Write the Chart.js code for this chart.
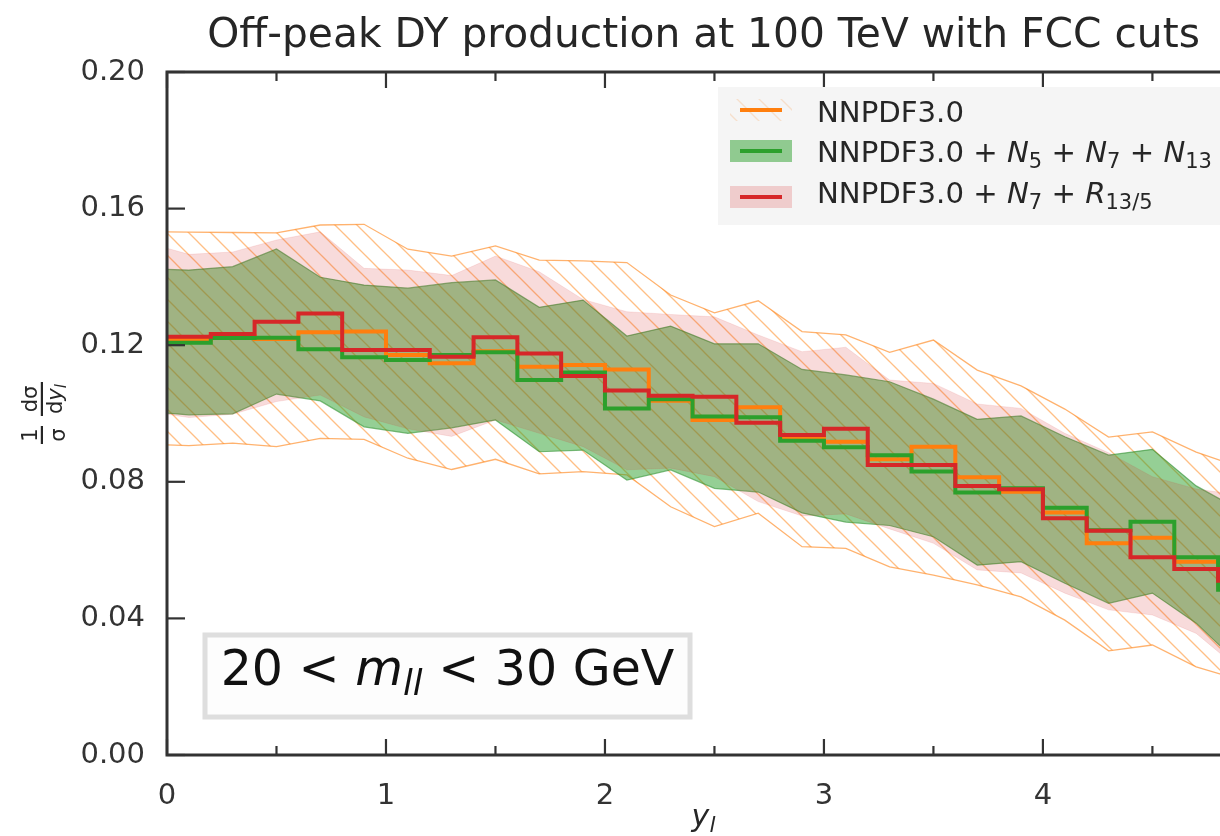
<!DOCTYPE html>
<html><head><meta charset="utf-8">
<script src="https://cdn.jsdelivr.net/npm/chart.js@4.4.1/dist/chart.umd.min.js"></script>
<style>
html,body{margin:0;padding:0;background:#fff;overflow:hidden;width:1220px;height:836px}
#wrap{width:1240px;height:836px}
canvas{display:block}
</style></head><body>
<div id="wrap"><canvas id="c" width="1240" height="836"></canvas></div>
<script>
// ---------------- data ----------------
const titleText = 'Off-peak DY production at 100 TeV with FCC cuts';
const binEdges = [0,0.2,0.4,0.6,0.8,1.0,1.2,1.4,1.6,1.8,2.0,2.2,2.4,2.6,2.8,3.0,3.2,3.4,3.6,3.8,4.0,4.2,4.4,4.6,4.8,5.0];
const nnpdfCentral = [0.1215,0.1227,0.1218,0.1238,0.1240,0.1171,0.1147,0.1182,0.1137,0.1142,0.1129,0.1037,0.0981,0.1018,0.0930,0.0917,0.0866,0.0903,0.0813,0.0771,0.0710,0.0620,0.0636,0.0566,0.0500];
const n5n7n13Central = [0.1207,0.1221,0.1222,0.1188,0.1165,0.1157,0.1171,0.1179,0.1098,0.1120,0.1015,0.1042,0.0991,0.0989,0.0920,0.0901,0.0878,0.0830,0.0769,0.0781,0.0724,0.0658,0.0683,0.0579,0.0484];
const n7r135Central = [0.1225,0.1233,0.1269,0.1293,0.1186,0.1186,0.1166,0.1223,0.1176,0.1110,0.1067,0.1052,0.1049,0.0973,0.0937,0.0955,0.0849,0.0849,0.0788,0.0778,0.0693,0.0657,0.0579,0.0545,0.0510];

const bandX = [0,0.1,0.3,0.5,0.7,0.9,1.1,1.3,1.5,1.7,1.9,2.1,2.3,2.5,2.7,2.9,3.1,3.3,3.5,3.7,3.9,4.1,4.3,4.5,4.7,4.9];
const nnpdfUpper = [0.1532,0.1531,0.1530,0.1529,0.1552,0.1554,0.1481,0.1461,0.1491,0.1449,0.1447,0.1442,0.1347,0.1295,0.1330,0.1240,0.1230,0.1179,0.1215,0.1127,0.1081,0.1013,0.0931,0.0946,0.0887,0.0843];
const nnpdfLower = [0.0908,0.0906,0.0913,0.0903,0.0927,0.0924,0.0869,0.0836,0.0866,0.0823,0.0830,0.0820,0.0727,0.0669,0.0708,0.0610,0.0605,0.0551,0.0527,0.0498,0.0463,0.0395,0.0305,0.0322,0.0258,0.0220];
const n5n7n13Upper = [0.1422,0.1420,0.1430,0.1482,0.1399,0.1376,0.1367,0.1383,0.1391,0.1311,0.1332,0.1227,0.1256,0.1204,0.1204,0.1129,0.1113,0.1093,0.1042,0.0983,0.0993,0.0932,0.0878,0.0895,0.0788,0.0717];
const n5n7n13Lower = [0.1001,0.0996,0.0999,0.1057,0.1037,0.0961,0.0942,0.0958,0.0981,0.0888,0.0893,0.0805,0.0835,0.0781,0.0770,0.0709,0.0682,0.0672,0.0639,0.0556,0.0566,0.0503,0.0444,0.0474,0.0386,0.0264];
const n7r135Upper = [0.1484,0.1466,0.1473,0.1508,0.1532,0.1425,0.1420,0.1404,0.1461,0.1415,0.1334,0.1298,0.1290,0.1283,0.1230,0.1181,0.1194,0.1098,0.1088,0.1028,0.1015,0.0942,0.0885,0.0815,0.0779,0.0761];
const n7r135Lower = [0.0998,0.0988,0.0998,0.1035,0.1054,0.0990,0.0955,0.0933,0.0981,0.0942,0.0903,0.0835,0.0840,0.0815,0.0742,0.0700,0.0706,0.0662,0.0620,0.0542,0.0533,0.0474,0.0425,0.0410,0.0356,0.0249];

const xTickVals = [0,1,2,3,4];
const xMinorVals = [0.5,1.5,2.5,3.5,4.5];
const yTickVals = [0,0.04,0.08,0.12,0.16,0.20];

// ---------------- style ----------------
const FAM = '"DejaVu Sans"';
const ORANGE = '#ff7f0e', GREEN = '#2ca02c', RED = '#d62728';
const AXC = '#333333';
const PINK_FILL = 'rgba(214,39,40,0.17)';
const GREEN_FILL = 'rgba(44,160,44,0.5)';

const mainCtx = document.getElementById('c').getContext('2d');
function makeHatch(ctx, alpha, lw){
  const s = 22, c = document.createElement('canvas'); c.width = s; c.height = s;
  const g = c.getContext('2d');
  g.strokeStyle = 'rgba(255,127,14,' + alpha + ')'; g.lineWidth = lw;
  for (const k of [-1,0,1]) { g.beginPath(); g.moveTo(-3, -3 + k*s); g.lineTo(s+3, s+3 + k*s); g.stroke(); }
  return ctx.createPattern(c, 'repeat');
}
const hatch = makeHatch(mainCtx, 0.5, 1.3);
const hatchLegend = makeHatch(mainCtx, 0.18, 1.3);

function fitSize(text, family, targetW, style){
  const m = document.createElement('canvas').getContext('2d');
  m.font = (style||'') + ' 100px ' + family;
  return 100 * targetW / m.measureText(text).width;
}
const titleSize = fitSize(titleText, FAM, 993);

function stepPoints(vals){
  const pts = vals.map((v,i) => ({x: binEdges[i], y: v}));
  pts.push({x: binEdges[vals.length], y: vals[vals.length-1]});
  return pts;
}
function bandPoints(vals){ return vals.map((v,i) => ({x: bandX[i], y: v})); }

function drawRich(ctx, x, y, parts, size, family, measureOnly){
  let cx = x;
  for (const [t, st] of parts){
    const italic = st.indexOf('i') >= 0, sub = st.indexOf('s') >= 0;
    const fs = sub ? size*0.72 : size;
    ctx.font = (italic ? 'italic ' : '') + fs + 'px ' + family;
    if (!measureOnly) ctx.fillText(t, cx, sub ? y + size*0.2 : y);
    cx += ctx.measureText(t).width;
  }
  return cx - x;
}

const decor = {
  id: 'decor',
  afterDatasetsDraw(chart){
    const {ctx, chartArea: a, scales: {x, y}} = chart;
    ctx.save();
    ctx.strokeStyle = AXC; ctx.lineCap = 'butt';
    const ln = (x1,y1,x2,y2) => { ctx.beginPath(); ctx.moveTo(x1,y1); ctx.lineTo(x2,y2); ctx.stroke(); };
    ctx.lineWidth = 2.2;
    for (const v of xTickVals){ const p = x.getPixelForValue(v); ln(p,a.bottom,p,a.bottom-16); ln(p,a.top,p,a.top+16); }
    for (const v of xMinorVals){ const p = x.getPixelForValue(v); ln(p,a.bottom,p,a.bottom-9); ln(p,a.top,p,a.top+9); }
    for (const v of yTickVals){ const p = y.getPixelForValue(v); ln(a.left,p,a.left+18,p); ln(a.right,p,a.right-18,p); }
    ctx.lineWidth = 3;
    ctx.strokeRect(a.left, a.top, a.right - a.left, a.bottom - a.top);
    ctx.restore();
  },
  afterDraw(chart){
    const {ctx, chartArea: a} = chart;
    ctx.save();
    // ---- legend ----
    ctx.fillStyle = '#f5f5f5';
    ctx.fillRect(718, 87, 530, 138);
    const hx0 = 730, hx1 = 792;
    ctx.fillStyle = hatchLegend; ctx.fillRect(hx0, 99, hx1-hx0, 22);
    ctx.fillStyle = GREEN_FILL; ctx.fillRect(hx0, 140, hx1-hx0, 22);
    ctx.fillStyle = 'rgba(214,39,40,0.2)'; ctx.fillRect(hx0, 186, hx1-hx0, 22);
    ctx.lineWidth = 4;
    [[ORANGE,110],[GREEN,151],[RED,197]].forEach(([c,yy]) => {
      ctx.strokeStyle = c; ctx.beginPath(); ctx.moveTo(740, yy); ctx.lineTo(782, yy); ctx.stroke();
    });
    ctx.fillStyle = '#262626'; ctx.textBaseline = 'alphabetic'; ctx.textAlign = 'left';
    const LS = 29.2;
    drawRich(ctx, 817, 122, [['NNPDF3.0','n']], LS, FAM);
    drawRich(ctx, 817, 162, [['NNPDF3.0 + ','n'],['N','i'],['5','s'],[' + ','n'],['N','i'],['7','s'],[' + ','n'],['N','i'],['13','s']], LS, FAM);
    drawRich(ctx, 817, 203, [['NNPDF3.0 + ','n'],['N','i'],['7','s'],[' + ','n'],['R','i'],['13/5','s']], LS, FAM);
    // ---- text box ----
    ctx.fillStyle = '#fdfdfd'; ctx.fillRect(205, 635, 485, 82);
    ctx.strokeStyle = '#dedede'; ctx.lineWidth = 5; ctx.strokeRect(205, 635, 485, 82);
    const boxParts = [['20 < ','n'],['m','i'],['ll','is'],[' < 30 GeV','n']];
    const BS = 49;
    const bw = drawRich(ctx, 0, 0, boxParts, BS, FAM, true);
    ctx.fillStyle = '#111';
    drawRich(ctx, 447.5 - bw/2, 685, boxParts, BS, FAM);
    // ---- x axis label ----
    ctx.fillStyle = '#262626';
    const xl = [['y','i'],['l','is']];
    const xw = drawRich(ctx, 0, 0, xl, 30, FAM, true);
    drawRich(ctx, (a.left + a.right)/2 - xw/2, 826, xl, 30, FAM);
    // ---- y axis label (rotated fraction) ----
    ctx.save();
    ctx.translate(42, 415);
    ctx.rotate(-Math.PI/2);
    const FS = 21;
    ctx.font = FS + 'px ' + FAM;
    ctx.textAlign = 'center';
    const c1 = -20;
    ctx.fillText('1', c1, -5);
    ctx.fillText('σ', c1, 23);
    ctx.fillRect(c1 - 9, -1.2, 18, 2.2);
    const c2 = 16;
    ctx.fillText('dσ', c2, -5);
    ctx.textAlign = 'left';
    const wd = ctx.measureText('d').width;
    ctx.font = 'italic ' + FS + 'px ' + FAM;
    const wy = ctx.measureText('y').width;
    ctx.font = 'italic ' + (FS*0.72) + 'px ' + FAM;
    const wl = ctx.measureText('l').width;
    let sx = c2 - (wd + wy + wl)/2;
    ctx.font = FS + 'px ' + FAM; ctx.fillText('d', sx, 20); sx += wd;
    ctx.font = 'italic ' + FS + 'px ' + FAM; ctx.fillText('y', sx, 20); sx += wy;
    ctx.font = 'italic ' + (FS*0.72) + 'px ' + FAM; ctx.fillText('l', sx, 24);
    ctx.fillRect(c2 - 17, -1.2, 34, 2.2);
    ctx.restore();
    ctx.restore();
  }
};

const bandLine = (c, w) => ({borderColor: c, borderWidth: w, pointRadius: 0, tension: 0});

new Chart(mainCtx, {
  type: 'line',
  data: {
    datasets: [
      Object.assign({label:'NNPDF3.0 band up', data: bandPoints(nnpdfUpper), fill: '+1', backgroundColor: hatch, order: 10}, bandLine('rgba(255,127,14,0.6)', 1.3)),
      Object.assign({label:'NNPDF3.0 band low', data: bandPoints(nnpdfLower), fill: false, order: 10}, bandLine('rgba(255,127,14,0.6)', 1.3)),
      Object.assign({label:'N5N7N13 band up', data: bandPoints(n5n7n13Upper), fill: '+1', backgroundColor: GREEN_FILL, order: 9}, bandLine('rgba(44,140,44,0.6)', 1.2)),
      Object.assign({label:'N5N7N13 band low', data: bandPoints(n5n7n13Lower), fill: false, order: 9}, bandLine('rgba(44,140,44,0.6)', 1.2)),
      Object.assign({label:'N7R135 band up', data: bandPoints(n7r135Upper), fill: '+1', backgroundColor: PINK_FILL, order: 8}, bandLine('rgba(214,39,40,0.1)', 1)),
      Object.assign({label:'N7R135 band low', data: bandPoints(n7r135Lower), fill: false, order: 8}, bandLine('rgba(214,39,40,0.1)', 1)),
      {label:'NNPDF3.0', data: stepPoints(nnpdfCentral), stepped: 'before', borderColor: ORANGE, borderWidth: 4, pointRadius: 0, fill: false, order: 3},
      {label:'NNPDF3.0 + N5 + N7 + N13', data: stepPoints(n5n7n13Central), stepped: 'before', borderColor: GREEN, borderWidth: 4, pointRadius: 0, fill: false, order: 2},
      {label:'NNPDF3.0 + N7 + R13/5', data: stepPoints(n7r135Central), stepped: 'before', borderColor: RED, borderWidth: 4, pointRadius: 0, fill: false, order: 1}
    ]
  },
  options: {
    responsive: false,
    animation: false,
    devicePixelRatio: 1,
    layout: {padding: {left: 0, right: 0, top: 0, bottom: 0}},
    plugins: {
      legend: {display: false},
      tooltip: {enabled: false},
      title: {display: true, text: titleText, fullSize: false, color: '#262626',
              font: {family: FAM, size: titleSize, weight: 'normal', lineHeight: 1.2},
              padding: {top: 12, bottom: 72 - 12 - titleSize*1.2}}
    },
    scales: {
      x: {type: 'linear', min: 0, max: 4.9,
          grid: {display: false, drawTicks: false}, border: {display: false},
          afterBuildTicks(s){ s.ticks = xTickVals.map(v => ({value: v})); },
          ticks: {padding: 24, color: '#333', font: {family: FAM, size: 29}, callback: v => String(v)},
          afterFit(s){ s.height = 81; }},
      y: {type: 'linear', min: 0, max: 0.2,
          grid: {display: false, drawTicks: false}, border: {display: false},
          afterBuildTicks(s){ s.ticks = yTickVals.map(v => ({value: v})); },
          ticks: {padding: 22, color: '#333', font: {family: FAM, size: 29}, callback: v => Number(v).toFixed(2)},
          afterFit(s){ s.width = 167; }}
    }
  },
  plugins: [decor]
});
</script>
</body></html>
